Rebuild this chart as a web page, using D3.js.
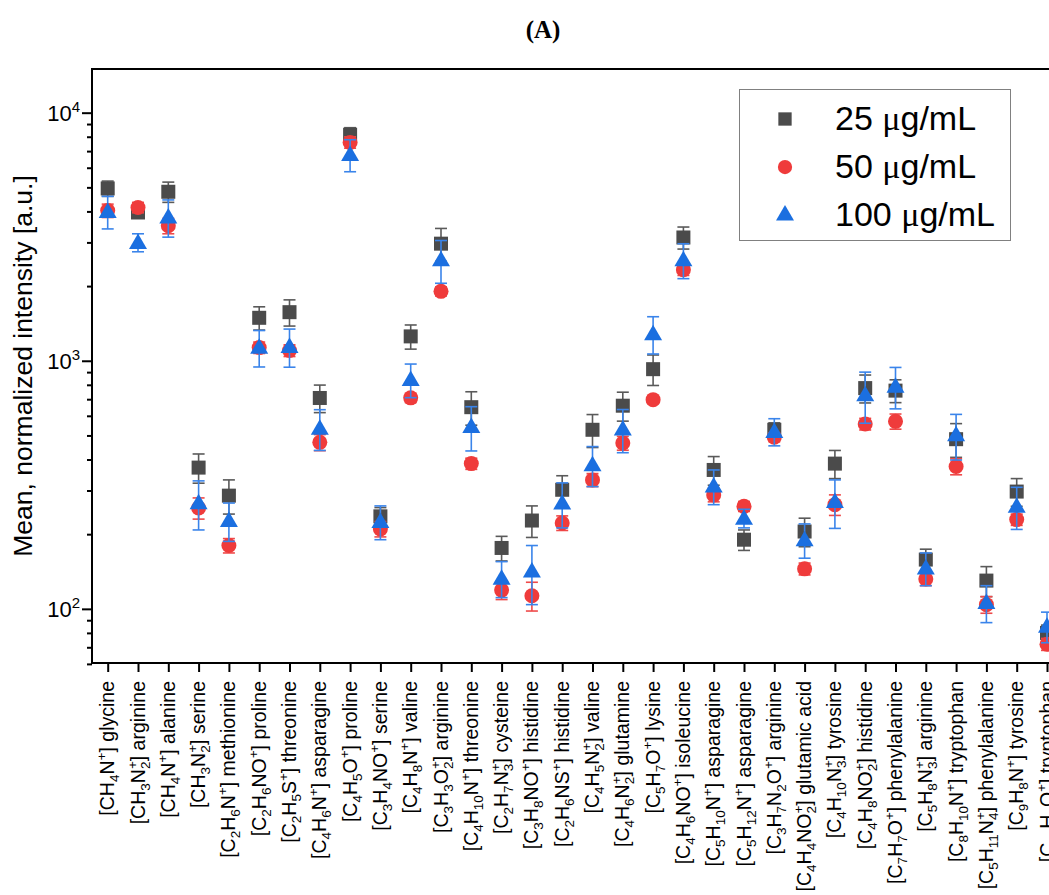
<!DOCTYPE html>
<html><head><meta charset="utf-8">
<script src="https://cdn.jsdelivr.net/npm/d3@7"></script>
<style>body{margin:0;overflow:hidden;background:#fff} svg{display:block}</style>
</head><body>
<svg id="c" width="1049" height="895"></svg>
<script>
const categories = [
 "[CH_4N^+] glycine","[CH_3N_2^+] arginine","[CH_4N^+] alanine","[CH_3N_2^+] serine",
 "[C_2H_6N^+] methionine","[C_2H_6NO^+] proline","[C_2H_5S^+] threonine","[C_4H_6N^+] asparagine",
 "[C_4H_5O^+] proline","[C_3H_4NO^+] serine","[C_4H_8N^+] valine","[C_3H_3O_2^+] arginine",
 "[C_4H_10N^+] threonine","[C_2H_7N_3^+] cysteine","[C_3H_8NO^+] histidine","[C_2H_6NS^+] histidine",
 "[C_4H_5N_2^+] valine","[C_4H_6N_2^+] glutamine","[C_5H_7O^+] lysine","[C_4H_6NO^+] isoleucine",
 "[C_5H_10N^+] asparagine","[C_5H_12N^+] asparagine","[C_3H_7N_2O^+] arginine","[C_4H_4NO_2^+] glutamic acid",
 "[C_4H_10N_3^+] tyrosine","[C_4H_8NO_2^+] histidine","[C_7H_7O^+] phenylalanine","[C_5H_8N_3^+] arginine",
 "[C_8H_10N^+] tryptophan","[C_5H_11N_4^+] phenylalanine","[C_9H_8N^+] tyrosine","[C_11H_8O^+] tryptophan"
];
const mean25 = [4950,3960,4800,371,286,1490,1570,708,8150,236,1254,2965,650,176,227,302,527,659,925,3140,363,190,527,205,385,776,758,158,483,130,297,80];
const sd25   = [350,150,450,50,45,160,190,90,550,20,140,450,100,20,33,42,80,88,130,320,48,18,35,27,50,100,80,16,75,18,38,6];
const mean50 = [4030,4150,3500,255,180,1130,1100,469,7590,210,709,1905,385,119,113,222,331,466,697,2327,288,259,492,145,263,556,570,132,375,104,229,72];
const sd50   = [250,200,250,25,12,60,60,35,400,15,30,80,20,10,15,15,20,30,25,120,18,12,20,8,25,30,40,8,28,8,12,4];
const mean100= [4000,3000,3800,268,227,1134,1142,535,6780,225,840,2553,543,133,142,267,381,531,1285,2553,313,232,519,190,271,730,790,146,503,106,259,85];
const sd100  = [600,250,650,60,40,190,200,100,1000,35,130,500,110,22,38,55,70,105,220,410,50,20,65,30,60,170,150,22,105,18,50,12];
const seriesNames = ["25 μg/mL","50 μg/mL","100 μg/mL"];
const yTickValues = [100,1000,10000];
const yMinorValues = [60,70,80,90,200,300,400,500,600,700,800,900,2000,3000,4000,5000,6000,7000,8000,9000];
const titleText = "(A)";
const yTitle = "Mean, normalized intensity [a.u.]";

const series = [
  {name:seriesNames[0], mean:mean25, sd:sd25, shape:"square", fill:"#4b4b4b", err:"#5a5a5a"},
  {name:seriesNames[1], mean:mean50, sd:sd50, shape:"circle", fill:"#ef3b3b", err:"#ef4a4a"},
  {name:seriesNames[2], mean:mean100, sd:sd100, shape:"triangle", fill:"#1b6fe0", err:"#3a84ea"}
];

const svg = d3.select("#c");
const L=92, T=69, B=663, R=1075;
const x = d3.scalePoint().domain(d3.range(categories.length)).range([107.7, 107.7 + 30.3*(categories.length-1)]);
const y = d3.scaleLog().domain([60.5, 15000]).range([B, T]);

// title
svg.append("text").attr("x",543).attr("y",38).attr("text-anchor","middle")
  .attr("font-family","Liberation Serif, Times New Roman, serif").attr("font-weight","bold")
  .attr("font-size",25).text(titleText);

// axes
const gl = svg.append("g").attr("transform",`translate(${L},0)`);
gl.call(d3.axisLeft(y).tickValues(yTickValues).tickSize(10).tickFormat(""));
gl.append("g").call(d3.axisLeft(y).tickValues(yMinorValues).tickSize(5).tickFormat(""));
gl.selectAll(".domain").remove();
gl.selectAll("line").attr("stroke","#000").attr("stroke-width",2);

const gb = svg.append("g").attr("transform",`translate(0,${B})`);
gb.call(d3.axisBottom(x).tickSize(9).tickFormat(""));
gb.selectAll(".domain").remove();
gb.selectAll("line").attr("stroke","#000").attr("stroke-width",2);

// y tick labels
yTickValues.forEach(v=>{
  const t = svg.append("text").attr("x",80).attr("y",y(v)+8).attr("text-anchor","end")
    .attr("font-family","Liberation Sans, Arial, sans-serif").attr("font-size",22);
  t.append("tspan").text("10");
  t.append("tspan").attr("dy",-9).attr("font-size",15).text(String(Math.round(Math.log10(v))));
});

// y title
svg.append("text").attr("transform","translate(32,366) rotate(-90)").attr("text-anchor","middle")
  .attr("font-family","Liberation Sans, Arial, sans-serif").attr("font-size",26.5).text(yTitle);

// x labels with sub/superscripts
function parseLabel(s){
  const segs=[]; let i=0, buf="";
  while(i<s.length){
    const c=s[i];
    if(c==="_"||c==="^"){
      if(buf){segs.push({t:buf,k:"n"});buf="";}
      let j=i+1, v="";
      if(c==="_"){ while(j<s.length && /[0-9]/.test(s[j])){v+=s[j];j++;} segs.push({t:v,k:"sub"}); }
      else { v=s[j]; j++; segs.push({t:v,k:"sup"}); }
      i=j;
    } else { buf+=c; i++; }
  }
  if(buf) segs.push({t:buf,k:"n"});
  return segs;
}
const FS=19.5, SFS=13.5;
categories.forEach((lab,i)=>{
  const t = svg.append("text")
    .attr("transform",`translate(${x(i)},681) rotate(-90)`)
    .attr("y",6.5).attr("text-anchor","end")
    .attr("font-family","Liberation Sans, Arial, sans-serif").attr("font-size",FS);
  const segs=parseLabel(lab);
  let cur=0, prev=null;
  segs.forEach(sg=>{
    const target = sg.k==="sub"?5:(sg.k==="sup"?-8:0);
    const ts=t.append("tspan").text(sg.t);
    if(target!==cur) ts.attr("dy",target-cur);
    cur=target;
    if(sg.k!=="n") ts.attr("font-size",SFS);
    if(sg.k==="sup" && prev && prev.k==="sub") ts.attr("dx", -(prev.t.length*0.556*SFS));
    prev=sg;
  });
});

// frame
svg.append("rect").attr("x",L).attr("y",T).attr("width",R-L).attr("height",B-T)
  .attr("fill","none").attr("stroke","#000").attr("stroke-width",2);

// marker painter
function drawMarker(g, shape, cx, cy, fill, scale){
  const s = scale||1;
  if(shape==="square"){
    const h=7*s;
    g.append("rect").attr("x",cx-h).attr("y",cy-h).attr("width",2*h).attr("height",2*h).attr("fill",fill);
  } else if(shape==="circle"){
    g.append("circle").attr("cx",cx).attr("cy",cy).attr("r",7.5*s).attr("fill",fill);
  } else {
    const w=9*s;
    g.append("path").attr("d",`M${cx},${cy-9*s}L${cx+w},${cy+6.5*s}L${cx-w},${cy+6.5*s}Z`).attr("fill",fill);
  }
}

// points and error bars
const gp = svg.append("g");
series.forEach(se=>{
  const g = gp.append("g");
  se.mean.forEach((m,i)=>{
    const cx=x(i), lo=y(m-se.sd[i]), hi=y(m+se.sd[i]);
    g.append("line").attr("x1",cx).attr("x2",cx).attr("y1",lo).attr("y2",hi).attr("stroke",se.err).attr("stroke-width",1.6);
    [lo,hi].forEach(yy=>g.append("line").attr("x1",cx-6).attr("x2",cx+6).attr("y1",yy).attr("y2",yy).attr("stroke",se.err).attr("stroke-width",1.6));
    drawMarker(g, se.shape, cx, y(m), se.fill, 1);
  });
});

// legend
const lg = svg.append("g");
lg.append("rect").attr("x",739.5).attr("y",89.5).attr("width",271).attr("height",151)
  .attr("fill","#fff").attr("stroke","#808080").attr("stroke-width",1);
const legY=[119,167,214], legBase=[130,178,226];
series.forEach((se,k)=>{
  drawMarker(lg, se.shape, 785, legY[k], se.fill, se.shape==="triangle"?1:0.95);
  const parts = se.name.split("μ");
  const t = lg.append("text").attr("x",835).attr("y",legBase[k])
    .attr("font-family","Liberation Sans, Arial, sans-serif").attr("font-size",34);
  t.append("tspan").text(parts[0]);
  t.append("tspan").attr("font-family","Liberation Serif, Times New Roman, serif").text("μ");
  t.append("tspan").text(parts[1]);
});
</script>
</body></html>
